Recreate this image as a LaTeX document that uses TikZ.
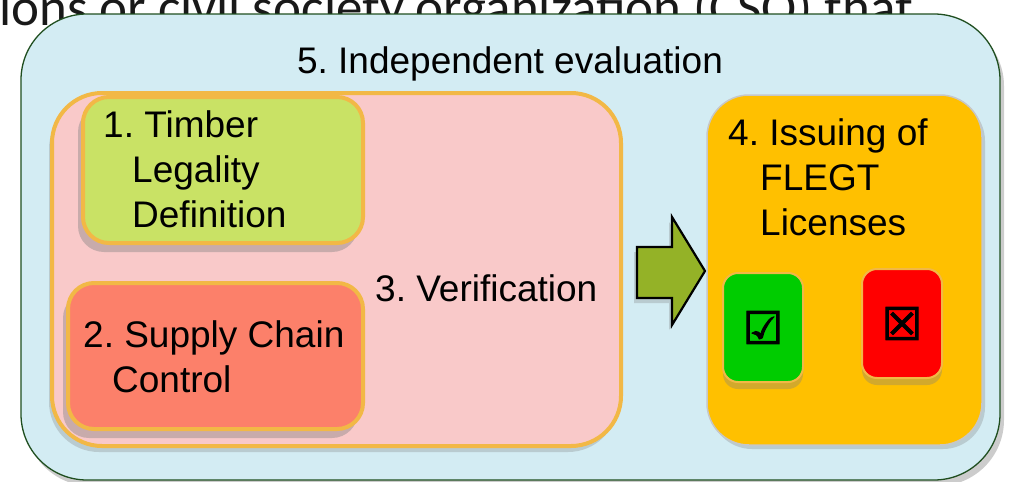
\documentclass[tikz,border=0pt]{standalone}
\usepackage{fontspec}
\setmainfont{Liberation Sans}
\newfontfamily\topfont{Carlito}
\newfontfamily\symfont[FakeBold=2.5]{DejaVu Sans}
\usetikzlibrary{shadows}
\definecolor{outerblue}{HTML}{D3ECF3}
\definecolor{outerline}{HTML}{1F4E1F}
\definecolor{pinkfill}{HTML}{F9C9C9}
\definecolor{orangeline}{HTML}{F2B846}
\definecolor{limefill}{HTML}{C9E265}
\definecolor{salmonfill}{HTML}{FC806A}
\definecolor{goldfill}{HTML}{FFC000}
\definecolor{cardgreen}{HTML}{00CC00}
\definecolor{cardred}{HTML}{FF0000}
\definecolor{arrowfill}{HTML}{94B227}
\frenchspacing
\tikzset{
  boxtext/.style={anchor=north west, inner sep=0pt, align=left,
    font=\fontsize{37}{45}\selectfont},
  outerbox/.style={draw=outerline, line width=1.3pt, fill=outerblue,
    rounded corners=66pt, inner sep=0pt,
    drop shadow={shadow xshift=4pt, shadow yshift=-6pt, opacity=0.4}},
  verifbox/.style={draw=orangeline, line width=4pt, fill=pinkfill,
    rounded corners=50pt, inner sep=0pt,
    drop shadow={shadow xshift=-3pt, shadow yshift=-6pt, opacity=0.3}},
  stepbox/.style={draw=orangeline, line width=4pt, rounded corners=26pt,
    inner sep=0pt,
    drop shadow={shadow xshift=-5pt, shadow yshift=-9pt, opacity=0.4}},
  issuebox/.style={draw=black!22, line width=1.5pt, fill=goldfill,
    rounded corners=42pt, inner sep=0pt,
    drop shadow={shadow xshift=3pt, shadow yshift=-4pt, opacity=0.3}},
  cardbox/.style={draw=orangeline, line width=2pt, rounded corners=15pt,
    inner sep=0pt, minimum width=80pt, minimum height=109pt,
    drop shadow={shadow xshift=0pt, shadow yshift=-7pt, opacity=0.35}},
  symb/.style={inner sep=0pt, font=\symfont\fontsize{45}{45}\selectfont}
}
\begin{document}
\begin{tikzpicture}[x=1pt,y=-1pt]
\useasboundingbox (0,0) rectangle (1015,482);
% partially hidden text from the slide above
\node[anchor=base west, inner sep=0pt, text=black!90,
  font=\topfont\fontsize{53}{60}\selectfont] (slidetext) at (-1,25)
  {ions or civil society organization (CSO) that};
% 5. Independent evaluation
\node[outerbox, minimum width=979pt, minimum height=466pt] (eval) at (510.5,247) {};
\node[inner sep=0pt, anchor=base, font=\fontsize{37}{45}\selectfont] (evaltext) at (510,73)
  {5. Independent evaluation};
% 3. Verification
\node[verifbox, minimum width=569pt, minimum height=353pt] (verif) at (336.5,269.5) {};
\node[inner sep=0pt, anchor=base west, font=\fontsize{37}{45}\selectfont] (veriftext) at (375,301)
  {3. Verification};
% 1. Timber legality definition
\node[stepbox, fill=limefill, minimum width=280pt, minimum height=146pt] (legal) at (223,170) {};
\node[boxtext] (legaltext) at (103,110)
  {1. Timber\\\hspace*{29pt}Legality\\\hspace*{29pt}Definition};
% 2. Supply chain control
\node[stepbox, fill=salmonfill, minimum width=295pt, minimum height=146pt] (chain) at (215.5,356) {};
\node[boxtext] (chaintext) at (83,320)
  {2. Supply Chain\\\hspace*{29pt}Control};
% arrow
\coordinate (a1) at (637,247);
\coordinate (a2) at (672,247);
\coordinate (a3) at (672,217);
\coordinate (a4) at (705,271);
\coordinate (a5) at (672,325);
\coordinate (a6) at (672,298);
\coordinate (a7) at (637,298);
\draw[line width=2.2pt, line join=miter, fill=arrowfill,
  drop shadow={shadow xshift=-3pt, shadow yshift=-5pt, opacity=0.3}]
  (a1) -- (a2) -- (a3) -- (a4) -- (a5) -- (a6) -- (a7) -- cycle;
% 4. Issuing of FLEGT licenses
\node[issuebox, minimum width=275pt, minimum height=350pt] (issue) at (844.5,270) {};
\node[boxtext] (issuetext) at (728,118)
  {4. Issuing of\\\hspace*{32pt}FLEGT\\\hspace*{32pt}Licenses};
\node[cardbox, fill=cardgreen] (okcard) at (763,327.5) {};
\node[symb] (oksym) at (okcard.center) {☑};
\node[cardbox, fill=cardred] (nocard) at (902,323.5) {};
\node[symb] (nosym) at (nocard.center) {☒};
\end{tikzpicture}
\end{document}
